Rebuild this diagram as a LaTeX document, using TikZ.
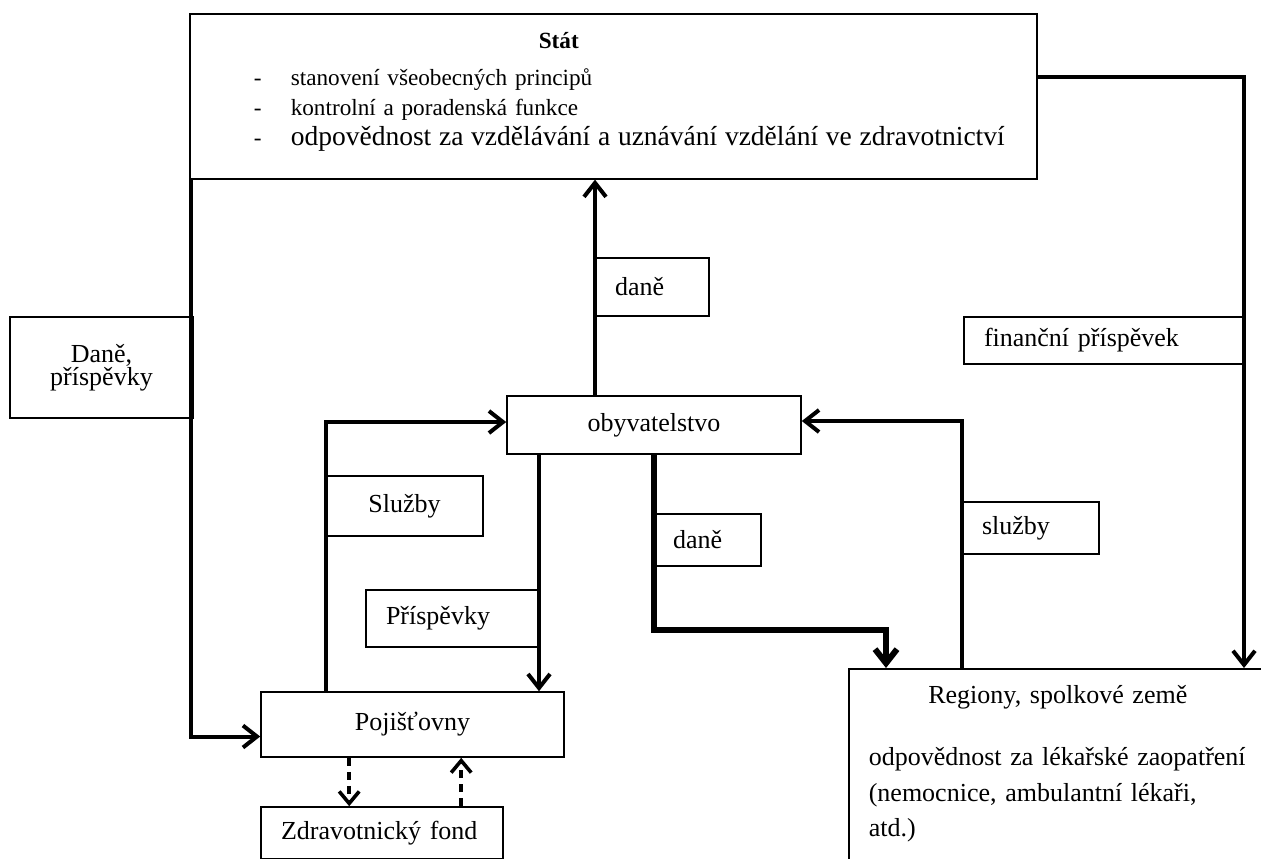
\documentclass[tikz,border=0pt]{standalone}
\usepackage{fontspec}
\setmainfont{Liberation Serif}
\usetikzlibrary{positioning,arrows.meta}

\begin{document}
\begin{tikzpicture}[
    x=0.5pt, y=-0.5pt,
    font={\fontsize{13}{15}\selectfont},
    box/.style={draw,line width=0.8pt,fill=white,inner sep=0pt,align=center},
    tag/.style={draw,line width=0.8pt,fill=white,inner xsep=10pt,inner ysep=0pt,align=left},
    flow/.style={line width=2pt,-{Straight Barb[length=7pt,width=11pt]}},
    back/.style={line width=1.8pt,dash pattern=on 4pt off 3pt,-{Straight Barb[length=6pt,width=10pt]}},
]
    \useasboundingbox (0,0) rectangle (1261,858);
    \clip (0,0) rectangle (1261,858);

    \node[box,anchor=north west,text width=423.5pt,minimum height=82.5pt,align=left,font={\fontsize{11.6}{15}\selectfont}] at (189,13) (stat)
        {\hspace*{174.5pt}\textbf{Stát}\\[3.5pt]
         \hspace*{32pt}\makebox[18.5pt][l]{-}stanovení všeobecných principů\\
         \hspace*{32pt}\makebox[18.5pt][l]{-}kontrolní a poradenská funkce\\
         \hspace*{32pt}\makebox[18.5pt][l]{-}{\fontsize{13.75}{15}\selectfont odpovědnost za vzdělávání a uznávání vzdělání ve zdravotnictví}\par
         \vspace{4pt}\hrule height 0pt width 0pt};

    \node[box,minimum width=91.5pt,minimum height=50.5pt,font={\fontsize{13}{11.5}\selectfont}] at (101.5,367.5) (taxes) {Daně,\\příspěvky};
    \node[tag,text width=37pt,minimum height=29pt] at (652,287) (daneTop) {daně};
    \node[tag,text width=119.5pt,minimum height=23.5pt] at (1103.5,340.5) (grant) {finanční příspěvek};

    \node[box,minimum width=147pt,minimum height=29pt] at (654,425) (people) {obyvatelstvo};
    \node[box,minimum width=78.5pt,minimum height=30pt] at (404.5,506) (servL) {Služby};
    \node[tag,text width=34pt,minimum height=26pt] at (707,540) (daneMid) {daně};
    \node[tag,text width=48.5pt,minimum height=26pt] at (1030.5,528) (servR) {služby};
    \node[tag,text width=66.5pt,minimum height=28.5pt] at (452.5,618.5) (contrib) {Příspěvky};

    \node[box,minimum width=151.5pt,minimum height=32.5pt] at (412.5,724.5) (insur) {Pojišťovny};
    \node[tag,text width=101pt,minimum height=26pt] at (382,833) (fund) {Zdravotnický fond};

    \node[box,anchor=north west,text width=196pt,inner xsep=10pt,inner ysep=8.5pt,align=left,font={\fontsize{13}{17.75}\selectfont}] at (848,668) (regions)
        {\makebox[189pt][c]{Regiony, spolkové země}\\[13.25pt]
         odpovědnost za lékařské zaopatření\\
         (nemocnice, ambulantní lékaři,\\
         atd.)\par
         \vspace{30pt}\hrule height 0pt width 0pt};

    \draw[flow] ([xshift=1pt]stat.south west) |- ([yshift=-6pt]insur.west);
    \draw[flow] ([xshift=-29.5pt]people.north) -- ([xshift=-29.5pt]people.north |- stat.south);
    \draw[flow] ([yshift=-32pt]stat.north east) -| ([xshift=198pt]regions.north west);

    \draw[flow] ([xshift=-43.25pt]insur.north) |- ([yshift=1.5pt]people.west);
    \draw[flow] ([xshift=57pt]regions.north west) |- ([yshift=2pt]people.east);
    \draw[flow] ([xshift=-57.5pt]people.south) -- ([xshift=-57.5pt]people.south |- insur.north);
    \draw[flow,line width=3pt] (people.south) |- ([xshift=19pt,yshift=19pt]regions.north west) -- ([xshift=19pt]regions.north west);

    \draw[back] ([xshift=44.5pt]insur.south west) -- ([xshift=44.5pt]insur.south west |- fund.north);
    \draw[back] ([xshift=100.5pt]fund.north west) -- ([xshift=100.5pt]fund.north west |- insur.south);

\end{tikzpicture}
\end{document}
